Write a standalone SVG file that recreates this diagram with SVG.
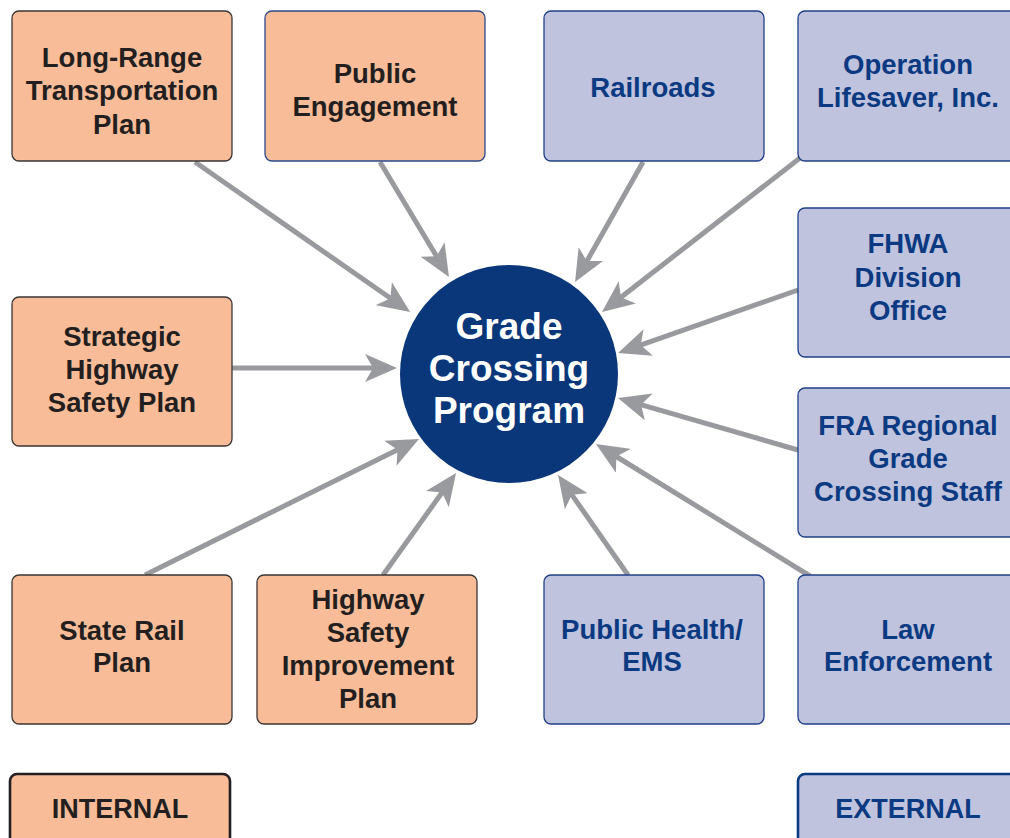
<svg xmlns="http://www.w3.org/2000/svg" width="1010" height="838" viewBox="0 0 1010 838">
<defs>
<style>
.int rect{fill:#f9bc98;stroke:#3a3535;stroke-width:1.3}
.ext rect{fill:#bfc3dd;stroke:#1f3f86;stroke-width:1.3}
text{font-family:"Liberation Sans",Arial,sans-serif;font-weight:bold;text-anchor:middle}
.int text{fill:#231f20;font-size:27.5px}
.ext text{fill:#0b3a82;font-size:27.5px}
.legend rect{stroke-width:2.6}
.legend text{font-size:27px}
.conn line{stroke:#999a9e;stroke-width:5;marker-end:url(#ah)}
.hub text{fill:#fff;font-size:37px}
</style>
<marker id="ah" markerUnits="userSpaceOnUse" viewBox="0 0 32 28" refX="12" refY="14" markerWidth="32" markerHeight="28" orient="auto">
<path d="M0,0 L32,14 L0,28 L8,14 Z" fill="#999a9e"/>
</marker>
</defs>
<rect width="1010" height="838" fill="#fff"/>
<g id="connectors" class="conn">
<line x1="195" y1="162" x2="393.7" y2="300.5"/>
<line x1="380" y1="162" x2="438.7" y2="259.8"/>
<line x1="643" y1="162" x2="584.9" y2="264.6"/>
<line x1="800" y1="158" x2="617.8" y2="299.7"/>
<line x1="798" y1="290" x2="636.9" y2="346.4"/>
<line x1="232" y1="368" x2="377" y2="368"/>
<line x1="798" y1="450" x2="637.2" y2="403.6"/>
<line x1="145" y1="575" x2="401.1" y2="447.9"/>
<line x1="383" y1="575" x2="444.4" y2="489.3"/>
<line x1="628" y1="575" x2="569.5" y2="491.4"/>
<line x1="810" y1="576" x2="613" y2="454.5"/>
</g>
<g id="hub" class="hub">
<circle cx="509" cy="374" r="109" fill="#0a367a"/>
<text x="509" y="339">Grade</text>
<text x="509" y="381">Crossing</text>
<text x="509" y="423">Program</text>
</g>
<g id="long-range" class="int">
<rect x="12" y="11" width="220" height="150" rx="7"/>
<text x="122" y="67">Long-Range</text>
<text x="122" y="100">Transportation</text>
<text x="122" y="134">Plan</text>
</g>
<g id="public-engagement" class="int">
<rect x="265" y="11" width="220" height="150" rx="7" style="stroke:#2a4a8a"/>
<text x="375" y="83">Public</text>
<text x="375" y="116">Engagement</text>
</g>
<g id="railroads" class="ext">
<rect x="544" y="11" width="220" height="150" rx="7"/>
<text x="653" y="97">Railroads</text>
</g>
<g id="operation-lifesaver" class="ext">
<rect x="798" y="11" width="222" height="150" rx="7"/>
<text x="908" y="74">Operation</text>
<text x="908" y="107">Lifesaver, Inc.</text>
</g>
<g id="fhwa" class="ext">
<rect x="798" y="208" width="222" height="149" rx="7"/>
<text x="908" y="253">FHWA</text>
<text x="908" y="287">Division</text>
<text x="908" y="320">Office</text>
</g>
<g id="fra" class="ext">
<rect x="798" y="388" width="222" height="149" rx="7"/>
<text x="908" y="435">FRA Regional</text>
<text x="908" y="468">Grade</text>
<text x="908" y="501">Crossing Staff</text>
</g>
<g id="strategic" class="int">
<rect x="12" y="297" width="220" height="149" rx="7"/>
<text x="122" y="346">Strategic</text>
<text x="122" y="379">Highway</text>
<text x="122" y="412">Safety Plan</text>
</g>
<g id="state-rail" class="int">
<rect x="12" y="575" width="220" height="149" rx="7"/>
<text x="122" y="640">State Rail</text>
<text x="122" y="672">Plan</text>
</g>
<g id="hsip" class="int">
<rect x="257" y="575" width="220" height="149" rx="7"/>
<text x="368" y="609">Highway</text>
<text x="368" y="642">Safety</text>
<text x="368" y="675">Improvement</text>
<text x="368" y="708">Plan</text>
</g>
<g id="public-health" class="ext">
<rect x="544" y="575" width="220" height="149" rx="7"/>
<text x="652" y="639">Public Health/</text>
<text x="652" y="671">EMS</text>
</g>
<g id="law-enforcement" class="ext">
<rect x="798" y="575" width="222" height="149" rx="7"/>
<text x="908" y="639">Law</text>
<text x="908" y="671">Enforcement</text>
</g>
<g id="legend-internal" class="int legend">
<rect x="10" y="774" width="220" height="80" rx="7" style="stroke:#231f20"/>
<text x="120" y="818">INTERNAL</text>
</g>
<g id="legend-external" class="ext legend">
<rect x="798" y="774" width="222" height="80" rx="7" style="stroke:#0b3a82"/>
<text x="908" y="818">EXTERNAL</text>
</g>
</svg>
